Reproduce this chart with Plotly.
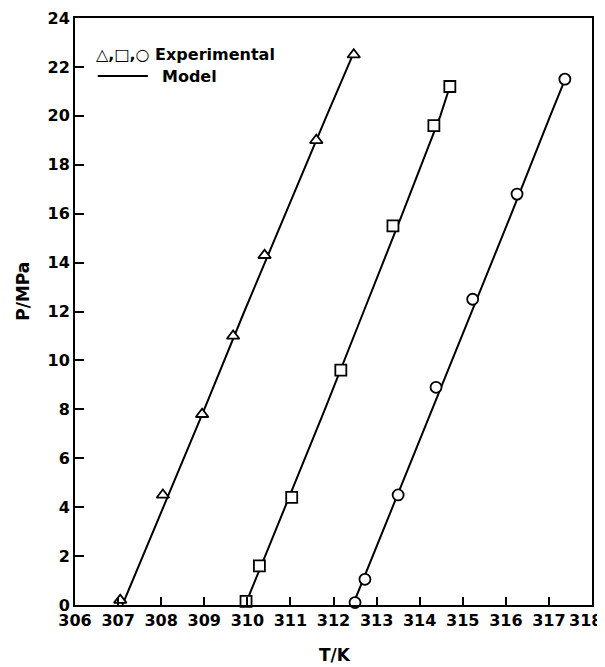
import plotly.graph_objects as go

# Experimental data (T/K, P/MPa)
tri_T = [307.05, 308.04, 308.95, 309.67, 310.40, 311.60, 312.47]
tri_P = [0.2, 4.5, 7.8, 11.0, 14.3, 19.0, 22.5]
sq_T = [309.97, 310.28, 311.03, 312.17, 313.38, 314.33, 314.70]
sq_P = [0.15, 1.6, 4.4, 9.6, 15.5, 19.6, 21.2]
ci_T = [312.50, 312.73, 313.50, 314.38, 315.23, 316.26, 317.37]
ci_P = [0.1, 1.05, 4.5, 8.9, 12.5, 16.8, 21.5]

# Model curves
m1_T = [307.10, 308.05, 309.00, 309.93, 310.88, 311.84, 312.45]
m1_P = [0.0, 4.0, 8.0, 12.0, 16.0, 20.0, 22.5]
m2_T = [309.95, 310.88, 311.80, 312.70, 313.60, 314.48, 314.70]
m2_P = [0.0, 4.0, 8.0, 12.0, 16.0, 20.0, 21.2]
m3_T = [312.45, 313.37, 314.30, 315.22, 316.13, 317.03, 317.40]
m3_P = [0.0, 4.0, 8.0, 12.0, 16.0, 20.0, 21.6]

x_ticks = list(range(306, 319))
y_ticks = list(range(0, 25, 2))

FONT = "DejaVu Sans"
TF = dict(size=16, family=FONT, color="black", weight="bold")
fig = go.Figure()

for T, P in [(m1_T, m1_P), (m2_T, m2_P), (m3_T, m3_P)]:
    fig.add_trace(go.Scatter(x=T, y=P, mode="lines", line=dict(color="black", width=2),
                             showlegend=False, hoverinfo="skip"))

for T, P, sym in [(tri_T, tri_P, "triangle-up"), (sq_T, sq_P, "square"), (ci_T, ci_P, "circle")]:
    fig.add_trace(go.Scatter(x=T, y=P, mode="markers", showlegend=False,
                             marker=dict(symbol=sym, size=11, color="white", line=dict(color="black", width=1.8)),
                             cliponaxis=False))

# last tick label (at the right edge) is drawn as an annotation so it stays inside the page
x_ticktext = [str(v) for v in x_ticks[:-1]] + [""]

fig.update_xaxes(range=[306, 318], tickvals=x_ticks, ticktext=x_ticktext,
                 showline=True, linecolor="black", linewidth=2, mirror=True, automargin=False,
                 ticks="inside", ticklen=8, tickwidth=1.5, tickcolor="black", showgrid=False, zeroline=False,
                 tickfont=TF)
fig.update_yaxes(range=[0, 24], tickvals=y_ticks, ticktext=[str(v) for v in y_ticks],
                 showline=True, linecolor="black", linewidth=2, mirror=True, automargin=False,
                 ticks="inside", ticklen=9, tickwidth=1.5, tickcolor="black", showgrid=False, zeroline=False,
                 tickfont=TF)

fig.add_annotation(xref="x", yref="paper", x=x_ticks[-1], y=0, xanchor="right", yanchor="middle",
                   xshift=12, yshift=-15, text=str(x_ticks[-1]), showarrow=False, font=TF)

# Axis titles
fig.add_annotation(xref="paper", yref="paper", x=-0.101, y=0.535, xanchor="center", yanchor="middle",
                   text="P/MPa", textangle=-90, showarrow=False, font=dict(size=17, family=FONT, color="black", weight="bold"))
fig.add_annotation(xref="paper", yref="paper", x=0.503, y=-0.085, xanchor="center", yanchor="middle",
                   text="T/K", showarrow=False, font=dict(size=17, family=FONT, color="black", weight="bold"))

# Legend
fig.add_annotation(xref="paper", yref="paper", x=0.036, y=0.937, xanchor="left", yanchor="middle",
                   text="△,□,○ Experimental", showarrow=False,
                   font=dict(size=16, family=FONT, color="black", weight="bold"))
fig.add_annotation(xref="paper", yref="paper", x=0.165, y=0.901, xanchor="left", yanchor="middle",
                   text="Model", showarrow=False,
                   font=dict(size=16, family=FONT, color="black", weight="bold"))
fig.add_shape(type="line", xref="paper", yref="paper", x0=0.044, x1=0.141, y0=0.901, y1=0.901,
              line=dict(color="black", width=2))

fig.update_layout(width=597, height=659, margin=dict(l=67, r=13, t=10, b=62),
                  plot_bgcolor="white", paper_bgcolor="white", showlegend=False)

fig.write_html("out.html")
